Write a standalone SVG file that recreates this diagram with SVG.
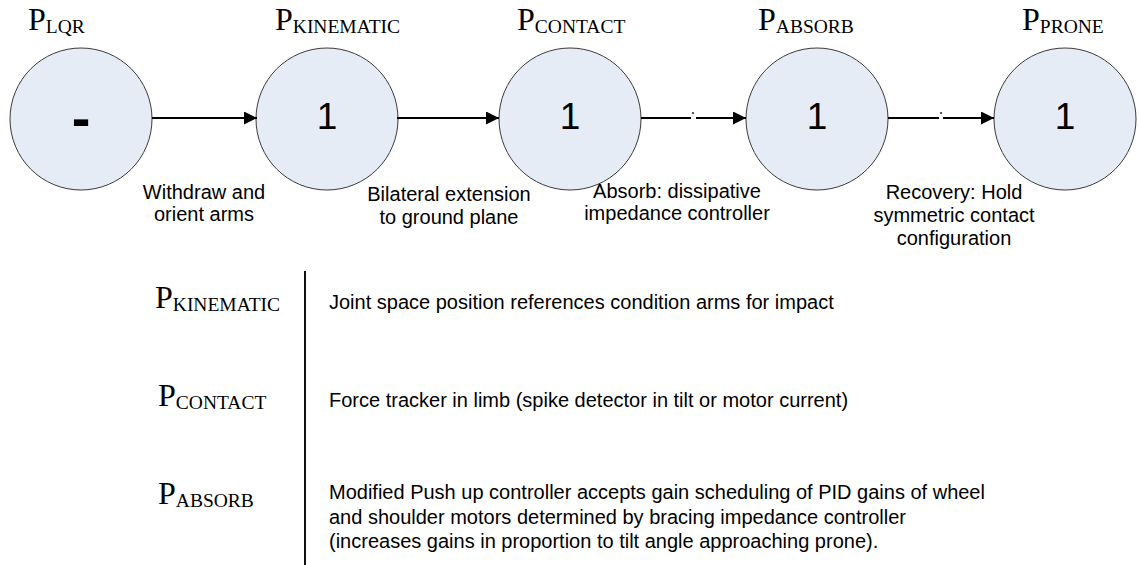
<svg xmlns="http://www.w3.org/2000/svg" width="1139" height="565" viewBox="0 0 1139 565">
  <style>
    .node { fill: #e6ecf6; stroke: #3a3a3a; stroke-width: 1; }
    .num { font-family: "Liberation Sans", Arial, sans-serif; font-size: 37px; fill: #000; text-anchor: middle; }
    .dash { font-size: 56px; font-weight: bold; }
    .ttl { font-family: "Liberation Serif", "Times New Roman", serif; font-size: 32px; fill: #000; }
    .sub { font-size: 19.5px; }
    .lbl { font-family: "Liberation Sans", Arial, sans-serif; font-size: 20px; fill: #000; text-anchor: middle; }
    .desc { font-family: "Liberation Sans", Arial, sans-serif; font-size: 20px; fill: #000; }
    .edge { stroke: #000; stroke-width: 2; fill: none; }
  </style>
  <defs>
    <marker id="arrow" markerUnits="userSpaceOnUse" markerWidth="14" markerHeight="14" refX="13" refY="6.5" orient="auto">
      <path d="M0,0 L13,6.5 L0,13 Z" fill="#000"/>
    </marker>
  </defs>
  <rect width="1139" height="565" fill="#fff"/>

  <g id="node-lqr">
    <text class="ttl" x="28" y="30">P<tspan class="sub" dy="3">LQR</tspan></text>
    <circle class="node" cx="81" cy="119" r="71"/>
    <text class="num dash" x="81" y="137">-</text>
  </g>
  <g id="node-kinematic">
    <text class="ttl" x="275" y="30">P<tspan class="sub" dy="3">KINEMATIC</tspan></text>
    <circle class="node" cx="327" cy="119" r="71"/>
    <text class="num" x="327" y="129">1</text>
  </g>
  <g id="node-contact">
    <text class="ttl" x="517" y="30">P<tspan class="sub" dy="3">CONTACT</tspan></text>
    <circle class="node" cx="570" cy="119" r="71"/>
    <text class="num" x="570" y="129">1</text>
  </g>
  <g id="node-absorb">
    <text class="ttl" x="758" y="30">P<tspan class="sub" dy="3">ABSORB</tspan></text>
    <circle class="node" cx="817" cy="119" r="71"/>
    <text class="num" x="817" y="129">1</text>
  </g>
  <g id="node-prone">
    <text class="ttl" x="1022" y="30">P<tspan class="sub" dy="3">PRONE</tspan></text>
    <circle class="node" cx="1065" cy="119" r="71"/>
    <text class="num" x="1065" y="129">1</text>
  </g>

  <g id="connectors">
    <line class="edge" x1="152" y1="118" x2="257" y2="118" marker-end="url(#arrow)"/>
    <line class="edge" x1="397" y1="118" x2="499" y2="118" marker-end="url(#arrow)"/>
    <line class="edge" x1="641" y1="118" x2="691" y2="118"/>
    <line class="edge" x1="696" y1="118" x2="746" y2="118" marker-end="url(#arrow)"/>
    <rect x="692" y="112" width="2" height="2" fill="#555"/>
    <line class="edge" x1="888" y1="118" x2="939" y2="118"/>
    <line class="edge" x1="943" y1="118" x2="994" y2="118" marker-end="url(#arrow)"/>
    <rect x="940" y="112" width="2" height="2" fill="#555"/>
  </g>

  <g id="edge-labels">
    <text class="lbl" x="204" y="199">Withdraw and<tspan x="204" dy="22">orient arms</tspan></text>
    <text class="lbl" x="449" y="201">Bilateral extension<tspan x="449" dy="23">to ground plane</tspan></text>
    <text class="lbl" x="677" y="198">Absorb: dissipative<tspan x="677" dy="22">impedance controller</tspan></text>
    <text class="lbl" x="954" y="199">Recovery: Hold<tspan x="954" dy="23">symmetric contact</tspan><tspan x="954" dy="23">configuration</tspan></text>
  </g>

  <g id="legend">
    <line x1="305" y1="271" x2="305" y2="565" stroke="#111" stroke-width="2"/>
    <g id="legend-kinematic">
      <text class="ttl" x="155" y="308">P<tspan class="sub" dy="3">KINEMATIC</tspan></text>
      <text class="desc" x="329" y="309">Joint space position references condition arms for impact</text>
    </g>
    <g id="legend-contact">
      <text class="ttl" x="158" y="406">P<tspan class="sub" dy="3">CONTACT</tspan></text>
      <text class="desc" x="329" y="407">Force tracker in limb (spike detector in tilt or motor current)</text>
    </g>
    <g id="legend-absorb">
      <text class="ttl" x="158" y="504">P<tspan class="sub" dy="3">ABSORB</tspan></text>
      <text class="desc" x="329" y="499">Modified Push up controller accepts gain scheduling of PID gains of wheel<tspan x="329" dy="24.5">and shoulder motors determined by bracing impedance controller</tspan><tspan x="329" dy="24.5">(increases gains in proportion to tilt angle approaching prone).</tspan></text>
    </g>
  </g>
</svg>
